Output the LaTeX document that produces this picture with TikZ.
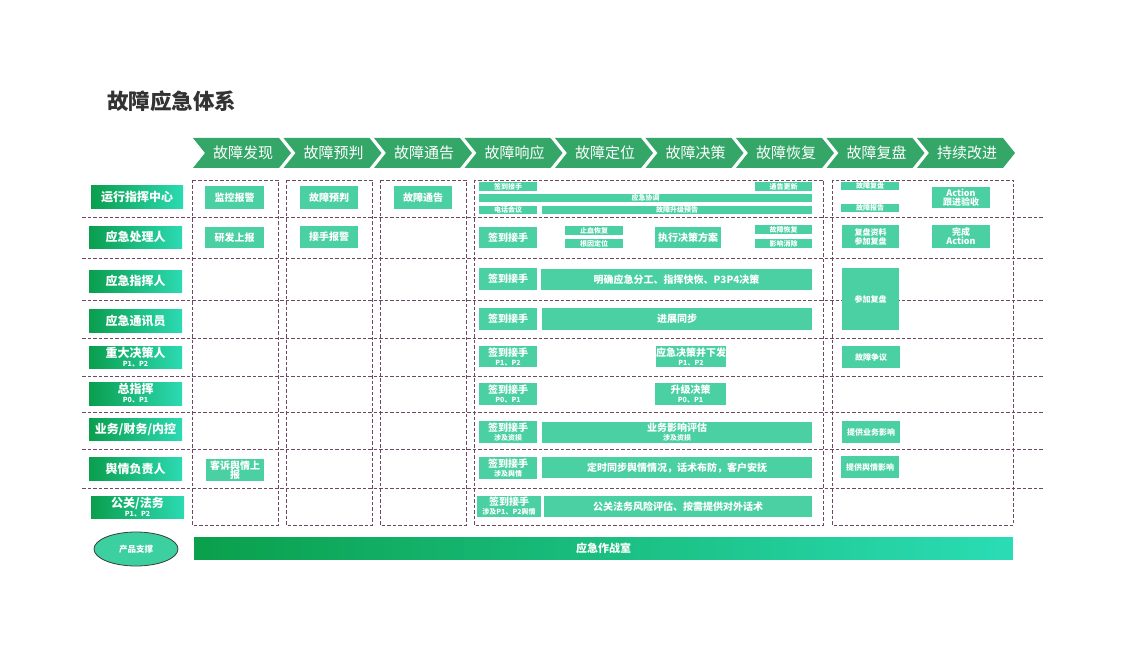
\documentclass[tikz,border=0pt]{standalone}
\usepackage{fontspec}
\setmainfont{Noto Sans CJK SC}
\usetikzlibrary{shapes.geometric}
\definecolor{chev}{RGB}{52,166,104}
\definecolor{mint}{RGB}{74,208,163}
\definecolor{gdark}{RGB}{10,158,78}
\definecolor{glight}{RGB}{44,218,178}
\definecolor{bdark}{RGB}{10,160,76}
\definecolor{blight}{RGB}{42,220,180}
\definecolor{ellfill}{RGB}{60,207,160}
\definecolor{elldraw}{RGB}{60,60,60}
\definecolor{dashcol}{RGB}{112,72,100}
\definecolor{titlecol}{RGB}{51,51,51}
\newcommand\fs[1]{\fontsize{#1}{#1}\selectfont}
\newcommand\cbox[7][]{\node[cell,#1, minimum width={(#4-#2)*1pt}, minimum height={(#5-#3)*1pt}] (#6) at ({(#2+#4)/2},{(#3+#5)/2}) {#7};}
\newcommand\rbox[6]{\node[rolebox, minimum width={(#3-#1)*1pt}, minimum height={(#4-#2)*1pt}] (#5) at ({(#1+#3)/2},{(#2+#4)/2}) {#6};}
\tikzset{
  cell/.style={fill=mint, inner sep=0pt, text=white, align=center, font=\bfseries\fs{10}},
  tiny/.style={font=\bfseries\fs{7}},
  small/.style={font=\bfseries\fs{8}},
  rolebox/.style={left color=gdark, right color=glight, inner sep=0pt, text=white, align=center, font=\bfseries\fs{12}},
  colbox/.style={draw=dashcol, line width=0.8pt, dash pattern=on 3.5pt off 2pt},
  sepline/.style={draw=dashcol, line width=0.8pt, dash pattern=on 3.5pt off 2pt},
  chevtxt/.style={text=white, font=\fs{15}}
}
\begin{document}
\begin{tikzpicture}[x=1pt,y=-1pt]
\useasboundingbox (0,0) rectangle (1124,647);
\fill[white] (0,0) rectangle (1124,647);
% title
\node[anchor=west, text=titlecol, font=\bfseries\fs{21.5}, inner sep=0pt] (title) at (107,101) {故障应急体系};
% chevrons
\foreach \i/\t in {0/故障发现,1/故障预判,2/故障通告,3/故障响应,4/故障定位,5/故障决策,6/故障恢复,7/故障复盘,8/持续改进}{
  \pgfmathsetmacro\xo{193+90.5*\i}
  \fill[chev] (\xo,138) -- ++(86,0) -- ++(12,15) -- ++(-12,15) -- ++(-86,0) -- ++(12,-15) -- cycle;
  \node[chevtxt] (ch\i) at (\xo+50,153) {\t};
}
% row separators
\foreach \yy in {217,258,300,338,376,412,449,488}{
  \draw[sepline] (82,\yy) -- (1043,\yy);
}
% column boxes
\draw[colbox] (192,180) rectangle (278,525);
\draw[colbox] (286,180) rectangle (372,525);
\draw[colbox] (380,180) rectangle (466,525);
\draw[colbox] (474,180) rectangle (823,525);
\draw[colbox] (832,180) rectangle (1013,525);
% role labels
\rbox{91}{186}{183}{209}{l1}{运行指挥中心}
\rbox{89}{226}{182}{248}{l2}{应急处理人}
\rbox{89}{270}{182}{292}{l3}{应急指挥人}
\rbox{89}{309}{182}{332}{l4}{应急通讯员}
\rbox{89}{346}{182}{368}{l5}{\fs{12}重大决策人\\[-3pt]{\fs{7}P1、P2}}
\rbox{89}{382}{182}{405}{l6}{\fs{12}总指挥\\[-3pt]{\fs{7}P0、P1}}
\rbox{89}{418}{182}{440}{l7}{业务/财务/内控}
\rbox{89}{457}{182}{480}{l8}{舆情负责人}
\rbox{91}{496}{184}{518}{l9}{\fs{12}公关/法务\\[-3pt]{\fs{7}P1、P2}}
% column 1-3
\cbox{205}{186}{264}{209}{c1a}{监控报警}
\cbox{205}{227}{264}{248}{c1b}{研发上报}
\cbox{206}{459}{264}{481}{c1c}{客诉舆情上\\[-1pt]报}
\cbox{300}{186}{358}{209}{c2a}{故障预判}
\cbox{300}{226}{358}{248}{c2b}{接手报警}
\cbox{394}{186}{452}{209}{c3a}{故障通告}
% column 4
\cbox[tiny]{479}{182}{537}{191}{r1a}{签到接手}
\cbox[tiny]{755}{182}{812}{191}{r1b}{通告更新}
\cbox[tiny]{479}{194}{812}{202}{r1c}{应急协调}
\cbox[tiny]{479}{206}{537}{214}{r1d}{电话会议}
\cbox[tiny]{542}{206}{812}{214}{r1e}{故障升级预告}
\cbox{479}{227}{537}{248}{r2a}{签到接手}
\cbox[tiny]{565}{226}{623}{235}{r2b}{止血恢复}
\cbox[tiny]{565}{239}{623}{248}{r2c}{根因定位}
\cbox{655}{227}{721}{248}{r2d}{执行决策方案}
\cbox[tiny]{755}{225}{812}{234}{r2e}{故障恢复}
\cbox[tiny]{755}{239}{812}{248}{r2f}{影响消除}
\cbox{479}{268}{537}{290}{r3a}{签到接手}
\cbox{541}{269}{812}{290}{r3b}{明确应急分工、指挥快恢、P3P4决策}
\cbox{479}{308}{537}{330}{r4a}{签到接手}
\cbox{542}{308}{812}{330}{r4b}{进展同步}
\cbox{479}{346}{537}{367}{r5a}{签到接手\\[-1pt]{\fs{7}P1、P2}}
\cbox{656}{346}{726}{367}{r5b}{应急决策并下发\\[-1pt]{\fs{7}P1、P2}}
\cbox{479}{383}{537}{405}{r6a}{签到接手\\[-1pt]{\fs{7}P0、P1}}
\cbox{655}{383}{726}{405}{r6b}{升级决策\\[-1pt]{\fs{7}P0、P1}}
\cbox{479}{421}{537}{443}{r7a}{签到接手\\[-1pt]{\fs{7}涉及资损}}
\cbox{542}{422}{812}{443}{r7b}{业务影响评估\\[-1pt]{\fs{7}涉及资损}}
\cbox{479}{457}{537}{479}{r8a}{签到接手\\[-1pt]{\fs{7}涉及舆情}}
\cbox{542}{457}{812}{478}{r8b}{定时同步舆情情况，话术布防，客户安抚}
\cbox{477}{496}{541}{517}{r9a}{签到接手\\[-1pt]{\fs{7}涉及P1、P2舆情}}
\cbox{544}{496}{812}{517}{r9b}{公关法务风险评估、按需提供对外话术}
% column 5
\cbox[tiny]{841}{182}{899}{190}{f1}{故障复盘}
\cbox[tiny]{841}{204}{899}{212}{f2}{故障报告}
\cbox[font=\bfseries\fs{9}]{932}{187}{990}{208}{f3}{Action\\[0pt]跟进验收}
\cbox[font=\bfseries\fs{8}]{842}{225}{899}{248}{f4}{复盘资料\\[1pt]参加复盘}
\cbox[font=\bfseries\fs{9}]{932}{225}{990}{248}{f5}{完成\\[0pt]Action}
\cbox[small]{842}{268}{899}{330}{f6}{参加复盘}
\cbox[small]{842}{346}{900}{368}{f7}{故障争议}
\cbox[small]{842}{421}{900}{443}{f8}{提供业务影响}
\cbox[small]{841}{456}{899}{478}{f9}{提供舆情影响}
% bottom
\node[ellipse, fill=ellfill, draw=elldraw, line width=0.8pt, minimum width=84pt, minimum height=34pt, inner sep=0pt, text=white, font=\bfseries\fs{8.5}] (prod) at (136,549) {产品支撑};
\foreach \k in {0,...,90}{
  \pgfmathsetmacro\px{194+9*\k}
  \pgfmathsetmacro\pc{100*\k/90}
  \fill[blight!\pc!bdark] (\px,537) rectangle ({min(\px+9.6,1013)},560);
}
\node[minimum width=819pt, minimum height=23pt, inner sep=0pt, text=white, font=\bfseries\fs{11}] (war) at (603.5,548.5) {应急作战室};
\end{tikzpicture}
\end{document}
